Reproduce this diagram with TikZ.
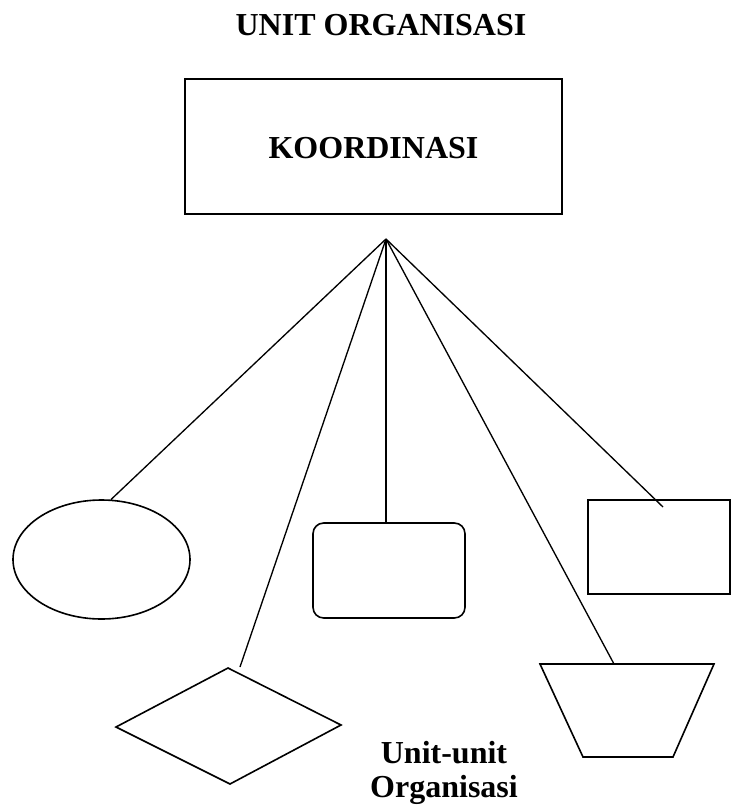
\documentclass[tikz,border=0pt]{standalone}
\usepackage{fontspec}
\setmainfont{Liberation Serif}
\usetikzlibrary{shapes.geometric}
\begin{document}
\begin{tikzpicture}[x=0.75pt,y=-0.75pt,
  shapeline/.style={draw=black,line width=1.2pt},
  conn/.style={draw=black,line width=1pt},
  lbl/.style={font=\fontsize{24}{25}\selectfont\bfseries,inner sep=0pt}]
\useasboundingbox (0,0) rectangle (731,811);
% title
\node[lbl,anchor=base] (title) at (381,35) {UNIT ORGANISASI};
% coordination box
\node[shapeline,rectangle,minimum width=377*0.75pt,minimum height=135*0.75pt,inner sep=0pt] (koord) at (373.5,146.5) {};
\node[lbl,anchor=base] (ktext) at (373.5,158) {KOORDINASI};
\coordinate (apex) at (386,239);
% unit shapes
\node[shapeline,ellipse,minimum width=177*0.75pt,minimum height=119*0.75pt,inner sep=0pt] (ell) at (101.5,559.5) {};
\node[shapeline,rectangle,rounded corners=8pt,minimum width=152*0.75pt,minimum height=95*0.75pt,inner sep=0pt] (rrect) at (389,570.5) {};
\node[shapeline,rectangle,minimum width=142*0.75pt,minimum height=94*0.75pt,inner sep=0pt] (rbox) at (659,547) {};
\coordinate (rboxend) at (663,507);
% diamond
\draw[shapeline] (116,727) coordinate (dl) -- (228,668) coordinate (dt) -- (341,725) coordinate (dr) -- (230,784) coordinate (db) -- cycle;
\coordinate (diaend) at (240,667);
% trapezoid
\draw[shapeline] (540,664) coordinate (tl) -- (714,664) coordinate (tr) -- (673,757) coordinate (br) -- (583,757) coordinate (bl) -- cycle;
\coordinate (trapend) at (614,664);
% connectors
\draw[conn] (apex) -- (ell.81);
\draw[conn] (apex) -- (diaend);
\draw[conn] (apex) -- (apex |- rrect.north);
\draw[conn] (apex) -- (trapend);
\draw[conn] (apex) -- (rboxend);
% label
\node[lbl,align=center] (units) at (444,773) {Unit-unit\\Organisasi};
\end{tikzpicture}
\end{document}
